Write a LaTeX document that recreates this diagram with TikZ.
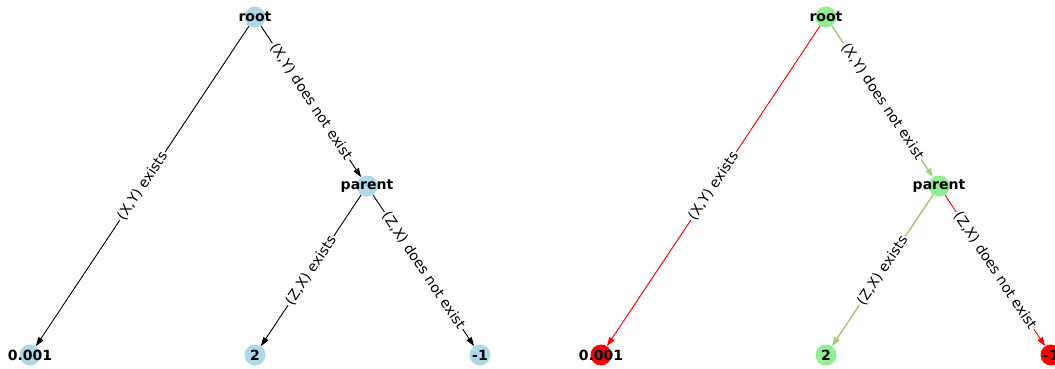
\documentclass[tikz,border=0pt]{standalone}
\usepackage{fontspec}
\setmainfont{DejaVu Sans}
\usetikzlibrary{arrows.meta}
\definecolor{nblue}{RGB}{173,216,230}
\definecolor{ngreen}{RGB}{144,238,144}
\definecolor{egreen}{RGB}{165,205,125}
\definecolor{nred}{RGB}{255,0,0}
\begin{document}
\begin{tikzpicture}[x=1pt,y=-1pt,
  vert/.style={circle, minimum size=21pt, inner sep=0pt, draw=none},
  vlbl/.style={font=\bfseries\fontsize{14}{16}\selectfont, inner sep=0pt},
  edge/.style={-{Triangle[length=9pt,width=6pt]}, line width=0.9pt},
  elbl/.style={sloped, midway, fill=white, inner sep=1.5pt, font=\fontsize{14}{16}\selectfont}]
\fill[white] (0,0) rectangle (1055,368);
\useasboundingbox (0,0) rectangle (1055,368);
\clip (0,0) rectangle (1055,368);
% left tree
\node[vert, fill=nblue] (lroot) at (255,17) {};
\node[vert, fill=nblue] (lpar) at (367,186) {};
\node[vert, fill=nblue] (la) at (30,355) {};
\node[vert, fill=nblue] (lb) at (255,355) {};
\node[vert, fill=nblue] (lc) at (480,355) {};
\draw[edge] (lroot) -- (la) node[elbl] {(X,Y) exists};
\draw[edge] (lroot) -- (lpar) node[elbl] {(X,Y) does not exist};
\draw[edge] (lpar) -- (lb) node[elbl] {(Z,X) exists};
\draw[edge] (lpar) -- (lc) node[elbl] {(Z,X) does not exist};
\node[vlbl] (lrootl) at (lroot) {root};
\node[vlbl] (lparl) at (lpar) {parent};
\node[vlbl] (lal) at (la) {0.001};
\node[vlbl] (lbl) at (lb) {2};
\node[vlbl] (lcl) at (lc) {-1};
% right tree
\node[vert, fill=ngreen] (rroot) at (826,17) {};
\node[vert, fill=ngreen] (rpar) at (939,186) {};
\node[vert, fill=nred] (ra) at (601,355) {};
\node[vert, fill=ngreen] (rb) at (826,355) {};
\node[vert, fill=nred] (rc) at (1051,355) {};
\draw[edge, draw=nred, fill=nred] (rroot) -- (ra) node[elbl, text=black] {(X,Y) exists};
\draw[edge, draw=egreen, fill=egreen, line width=1.5pt] (rroot) -- (rpar) node[elbl, text=black] {(X,Y) does not exist};
\draw[edge, draw=egreen, fill=egreen, line width=1.5pt] (rpar) -- (rb) node[elbl, text=black] {(Z,X) exists};
\draw[edge, draw=nred, fill=nred] (rpar) -- (rc) node[elbl, text=black] {(Z,X) does not exist};
\node[vlbl] (rrootl) at (rroot) {root};
\node[vlbl] (rparl) at (rpar) {parent};
\node[vlbl] (ral) at (ra) {0.001};
\node[vlbl] (rbl) at (rb) {2};
\node[vlbl] (rcl) at (rc) {-1};
\end{tikzpicture}
\end{document}
